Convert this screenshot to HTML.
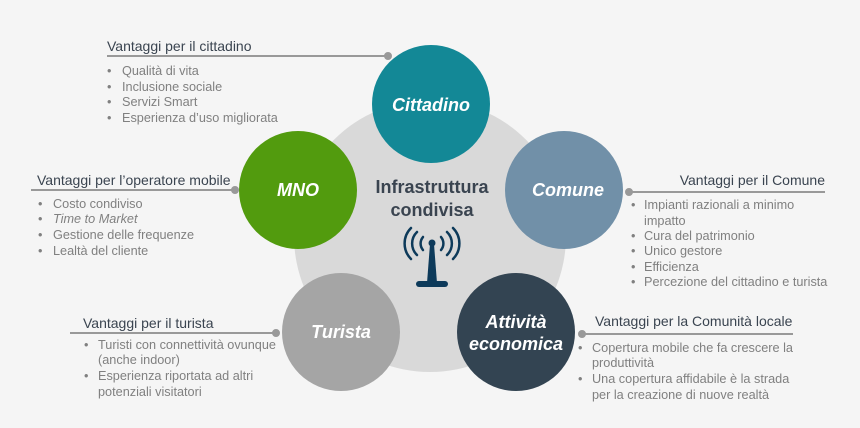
<!DOCTYPE html>
<html><head><meta charset="utf-8"><style>
html,body{margin:0;padding:0;background:#f5f5f5}
svg{display:block;font-family:"Liberation Sans",Arial,sans-serif}
.h{font-size:14px;fill:#3a4450}
.b{font-size:12.7px;fill:#808080}
.c{font-size:18px;font-weight:bold;font-style:italic;fill:#fff}
</style></head><body>
<svg width="860" height="428" viewBox="0 0 860 428">
<rect width="860" height="428" fill="#f5f5f5"/>
<circle cx="430" cy="236" r="136" fill="#d9d9d9"/>
<circle cx="431" cy="104" r="59" fill="#138896"/>
<circle cx="298" cy="190" r="59" fill="#529b0e"/>
<circle cx="564" cy="190" r="59" fill="#7190a8"/>
<circle cx="341" cy="332" r="59" fill="#a5a5a5"/>
<circle cx="516" cy="332" r="59" fill="#334452"/>
<text class="c" x="431" y="111" text-anchor="middle">Cittadino</text>
<text class="c" x="298" y="196" text-anchor="middle">MNO</text>
<text class="c" x="568" y="196" text-anchor="middle">Comune</text>
<text class="c" x="341" y="338" text-anchor="middle">Turista</text>
<text class="c" x="516" y="328" text-anchor="middle">Attività</text>
<text class="c" x="516" y="350" text-anchor="middle">economica</text>
<text x="432" y="193" text-anchor="middle" font-size="18" font-weight="bold" fill="#3a4450">Infrastruttura</text>
<text x="432" y="216" text-anchor="middle" font-size="18" font-weight="bold" fill="#3a4450">condivisa</text>
<g fill="none" stroke="#0d3a5a" stroke-width="2.5" stroke-linecap="round">
<path d="M423 237 a10 10 0 0 0 0 13"/><path d="M417 232 a16 16 0 0 0 0 23"/><path d="M411 228 a22 22 0 0 0 0 31"/>
<path d="M441 237 a10 10 0 0 1 0 13"/><path d="M447 232 a16 16 0 0 1 0 23"/><path d="M453 228 a22 22 0 0 1 0 31"/>
</g>
<circle cx="432" cy="243" r="3.5" fill="#0d3a5a"/>
<path d="M430 244 L434 244 L437 283 L427 283 Z" fill="#0d3a5a"/>
<rect x="416" y="281" width="32" height="6" rx="3" fill="#0d3a5a"/>
<g stroke="#999" stroke-width="2" fill="#999">
<line x1="107" y1="56" x2="388" y2="56"/><circle cx="388" cy="56" r="3"/>
<line x1="31" y1="190" x2="235" y2="190"/><circle cx="235" cy="190" r="3"/>
<line x1="628" y1="192" x2="825" y2="192"/><circle cx="629" cy="192" r="3"/>
<line x1="582" y1="334" x2="793" y2="334"/><circle cx="582" cy="334" r="3"/>
<line x1="70" y1="333" x2="276" y2="333"/><circle cx="276" cy="333" r="3"/>
</g>
<text class="h" x="107" y="51">Vantaggi per il cittadino</text>
<g class="b">
<text x="107" y="75">•</text><text x="122" y="75">Qualità di vita</text>
<text x="107" y="91">•</text><text x="122" y="91">Inclusione sociale</text>
<text x="107" y="106">•</text><text x="122" y="106">Servizi Smart</text>
<text x="107" y="122">•</text><text x="122" y="122">Esperienza d’uso migliorata</text>
</g>
<text class="h" x="37" y="185">Vantaggi per l’operatore mobile</text>
<g class="b">
<text x="38" y="208">•</text><text x="53" y="208">Costo condiviso</text>
<text x="38" y="223">•</text><text x="53" y="223" font-style="italic">Time to Market</text>
<text x="38" y="239">•</text><text x="53" y="239">Gestione delle frequenze</text>
<text x="38" y="255">•</text><text x="53" y="255">Lealtà del cliente</text>
</g>
<text class="h" x="825" y="185" text-anchor="end">Vantaggi per il Comune</text>
<g class="b">
<text x="631" y="209">•</text><text x="644" y="209">Impianti razionali a minimo</text>
<text x="644" y="225">impatto</text>
<text x="631" y="240">•</text><text x="644" y="240">Cura del patrimonio</text>
<text x="631" y="255">•</text><text x="644" y="255">Unico gestore</text>
<text x="631" y="271">•</text><text x="644" y="271">Efficienza</text>
<text x="631" y="286">•</text><text x="644" y="286">Percezione del cittadino e turista</text>
</g>
<text class="h" x="595" y="326">Vantaggi per la Comunità locale</text>
<g class="b">
<text x="578" y="352">•</text><text x="592" y="352">Copertura mobile che fa crescere la</text>
<text x="592" y="367">produttività</text>
<text x="578" y="383">•</text><text x="592" y="383">Una copertura affidabile è la strada</text>
<text x="592" y="399">per la creazione di nuove realtà</text>
</g>
<text class="h" x="83" y="328">Vantaggi per il turista</text>
<g class="b">
<text x="84" y="349">•</text><text x="98" y="349">Turisti con connettività ovunque</text>
<text x="98" y="364">(anche indoor)</text>
<text x="84" y="380">•</text><text x="98" y="380">Esperienza riportata ad altri</text>
<text x="98" y="396">potenziali visitatori</text>
</g>
</svg>
</body></html>
